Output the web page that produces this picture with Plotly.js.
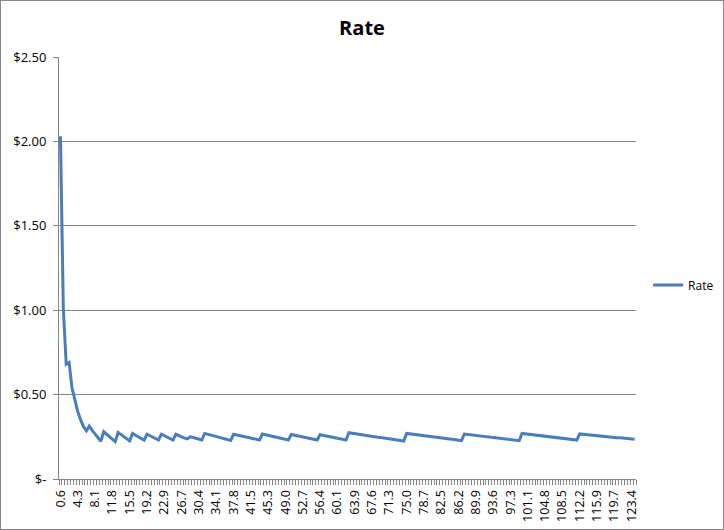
<!DOCTYPE html>
<html>
<head>
<meta charset="utf-8">
<script src="https://cdn.plot.ly/plotly-3.0.1.min.js"></script>
<style>
  html, body { margin: 0; padding: 0; background: #fff; }
  #chart { width: 722px; height: 528px; border: 1px solid #868686; }
</style>
</head>
<body>
<div id="chart"></div>
<script>
// Category values (x), one per point
const xValues = [
  0.62, 1.24, 1.86, 2.48, 3.10, 3.72, 4.34, 4.96, 5.58, 6.20,
  6.82, 7.44, 8.06, 8.68, 9.30, 9.92, 10.54, 11.16, 11.78, 12.40,
  13.02, 13.64, 14.26, 14.88, 15.50, 16.12, 16.74, 17.36, 17.98, 18.60,
  19.22, 19.84, 20.46, 21.08, 21.70, 22.32, 22.94, 23.56, 24.18, 24.80,
  25.42, 26.04, 26.66, 27.28, 27.90, 28.52, 29.14, 29.76, 30.38, 31.00,
  31.62, 32.24, 32.86, 33.48, 34.10, 34.72, 35.34, 35.96, 36.58, 37.20,
  37.82, 38.44, 39.06, 39.68, 40.30, 40.92, 41.54, 42.16, 42.78, 43.40,
  44.02, 44.64, 45.26, 45.88, 46.50, 47.12, 47.74, 48.36, 48.98, 49.60,
  50.22, 50.84, 51.46, 52.08, 52.70, 53.32, 53.94, 54.56, 55.18, 55.80,
  56.42, 57.04, 57.66, 58.28, 58.90, 59.52, 60.14, 60.76, 61.38, 62.00,
  62.62, 63.24, 63.86, 64.48, 65.10, 65.72, 66.34, 66.96, 67.58, 68.20,
  68.82, 69.44, 70.06, 70.68, 71.30, 71.92, 72.54, 73.16, 73.78, 74.40,
  75.02, 75.64, 76.26, 76.88, 77.50, 78.12, 78.74, 79.36, 79.98, 80.60,
  81.22, 81.84, 82.46, 83.08, 83.70, 84.32, 84.94, 85.56, 86.18, 86.80,
  87.42, 88.04, 88.66, 89.28, 89.90, 90.52, 91.14, 91.76, 92.38, 93.00,
  93.62, 94.24, 94.86, 95.48, 96.10, 96.72, 97.34, 97.96, 98.58, 99.20,
  99.82, 100.44, 101.06, 101.68, 102.30, 102.92, 103.54, 104.16, 104.78, 105.40,
  106.02, 106.64, 107.26, 107.88, 108.50, 109.12, 109.74, 110.36, 110.98, 111.60,
  112.22, 112.84, 113.46, 114.08, 114.70, 115.32, 115.94, 116.56, 117.18, 117.80,
  118.42, 119.04, 119.66, 120.28, 120.90, 121.52, 122.14, 122.76, 123.38, 124.00
];

// Series "Rate" (dollars)
const rateValues = [
  2.03, 1.01, 0.68, 0.69, 0.54, 0.46, 0.40, 0.35, 0.31, 0.286,
  0.314, 0.288, 0.265, 0.243, 0.224,
  0.280, 0.266, 0.251, 0.236, 0.222,
  0.276, 0.264, 0.251, 0.238, 0.226,
  0.270, 0.260, 0.250, 0.240, 0.230,
  0.265, 0.257, 0.248, 0.240, 0.231,
  0.265, 0.257, 0.248, 0.240, 0.231,
  0.265, 0.256, 0.248, 0.242, 0.238,
  0.250, 0.246, 0.241, 0.236, 0.231,
  0.270, 0.265, 0.261, 0.256, 0.251, 0.247, 0.242, 0.237, 0.233, 0.228,
  0.265, 0.261, 0.257, 0.254, 0.250, 0.246, 0.242, 0.239, 0.235, 0.231,
  0.266, 0.262, 0.258, 0.254, 0.250, 0.247, 0.243, 0.239, 0.235, 0.231,
  0.264, 0.260, 0.257, 0.253, 0.249, 0.246, 0.242, 0.238, 0.235, 0.231,
  0.262, 0.259, 0.255, 0.252, 0.248, 0.245, 0.241, 0.238, 0.234, 0.231,
  0.274, 0.271, 0.269, 0.266, 0.264, 0.261, 0.259, 0.256, 0.253, 0.251,
  0.248, 0.246, 0.243, 0.240, 0.238, 0.235, 0.233, 0.230, 0.228, 0.225,
  0.270, 0.268, 0.265, 0.263, 0.261, 0.259, 0.256, 0.254, 0.252, 0.250,
  0.247, 0.245, 0.243, 0.241, 0.238, 0.236, 0.234, 0.232, 0.229, 0.227,
  0.266, 0.264, 0.262, 0.260, 0.258, 0.256, 0.254, 0.252, 0.250, 0.248,
  0.245, 0.243, 0.241, 0.239, 0.237, 0.235, 0.233, 0.231, 0.229, 0.227,
  0.270, 0.268, 0.266, 0.264, 0.262, 0.260, 0.258, 0.256, 0.254, 0.252,
  0.249, 0.247, 0.245, 0.243, 0.241, 0.239, 0.237, 0.235, 0.233, 0.231,
  0.267, 0.265, 0.264, 0.262, 0.260, 0.259, 0.257, 0.255, 0.254, 0.252,
  0.250, 0.249, 0.247, 0.245, 0.244, 0.242, 0.240, 0.239, 0.237, 0.235
];

// X tick labels (every 6th category)
const xTickLabels = [
  "0.6","4.3","8.1","11.8","15.5","19.2","22.9","26.7","30.4","34.1",
  "37.8","41.5","45.3","49.0","52.7","56.4","60.1","63.9","67.6","71.3",
  "75.0","78.7","82.5","86.2","89.9","93.6","97.3","101.1","104.8","108.5",
  "112.2","115.9","119.7","123.4"
];

// Y tick values and labels
const yTickValues = [0, 0.5, 1.0, 1.5, 2.0, 2.5];
const yTickLabels = ["$-", "$0.50", "$1.00", "$1.50", "$2.00", "$2.50"];

const seriesName = "Rate";
const chartTitle = "Rate";

const xTickValues = xValues.filter((v, k) => k % 6 === 0);
const step = xValues[1] - xValues[0];

const gray = "#868686";
const fontFam = "'Open Sans', 'Liberation Sans', sans-serif";

const trace = {
  x: xValues,
  y: rateValues,
  type: "scatter",
  mode: "lines",
  name: seriesName,
  line: { color: "#4A7EBB", width: 3 },
  showlegend: true
};

const layout = {
  width: 722,
  height: 528,
  margin: { l: 58, r: 87, t: 56, b: 50, autoexpand: false },
  paper_bgcolor: "#ffffff",
  plot_bgcolor: "#ffffff",
  font: { family: fontFam, size: 12, color: "#000000" },
  title: {
    text: "<b>" + chartTitle + "</b>",
    font: { family: fontFam, size: 20, color: "#000000" },
    xref: "container", x: 0.5, xanchor: "center",
    yref: "container", y: 0.949, yanchor: "middle"
  },
  xaxis: {
    type: "linear",
    range: [xValues[0] - step / 2, xValues[xValues.length - 1] + step / 2],
    tickmode: "array",
    tickvals: xTickValues,
    ticktext: xTickLabels,
    tickangle: -90,
    ticks: "",
    ticklabelstandoff: 5,
    tickfont: { family: fontFam, size: 12.5, color: "#000000" },
    showgrid: false,
    zeroline: false,
    showline: true,
    linecolor: gray,
    linewidth: 1,
    minor: {
      tickmode: "linear",
      tick0: xValues[0] - step / 2,
      dtick: step,
      ticks: "outside",
      ticklen: 5,
      tickcolor: gray,
      tickwidth: 1,
      showgrid: false
    },
    fixedrange: true
  },
  yaxis: {
    range: [0, 2.5],
    tickmode: "array",
    tickvals: yTickValues,
    ticktext: yTickLabels,
    ticks: "outside",
    ticklen: 5,
    tickcolor: gray,
    ticklabelstandoff: 4,
    tickfont: { family: fontFam, size: 13, color: "#000000" },
    showgrid: true,
    gridcolor: gray,
    gridwidth: 1,
    zeroline: false,
    showline: true,
    linecolor: gray,
    linewidth: 1,
    fixedrange: true
  },
  legend: {
    x: 1.021, xanchor: "left",
    y: 0.46, yanchor: "middle",
    bgcolor: "rgba(0,0,0,0)",
    borderwidth: 0,
    font: { family: fontFam, size: 12, color: "#000000" },
    itemwidth: 30
  }
};

Plotly.newPlot("chart", [trace], layout, { staticPlot: true, displayModeBar: false });
</script>
</body>
</html>
